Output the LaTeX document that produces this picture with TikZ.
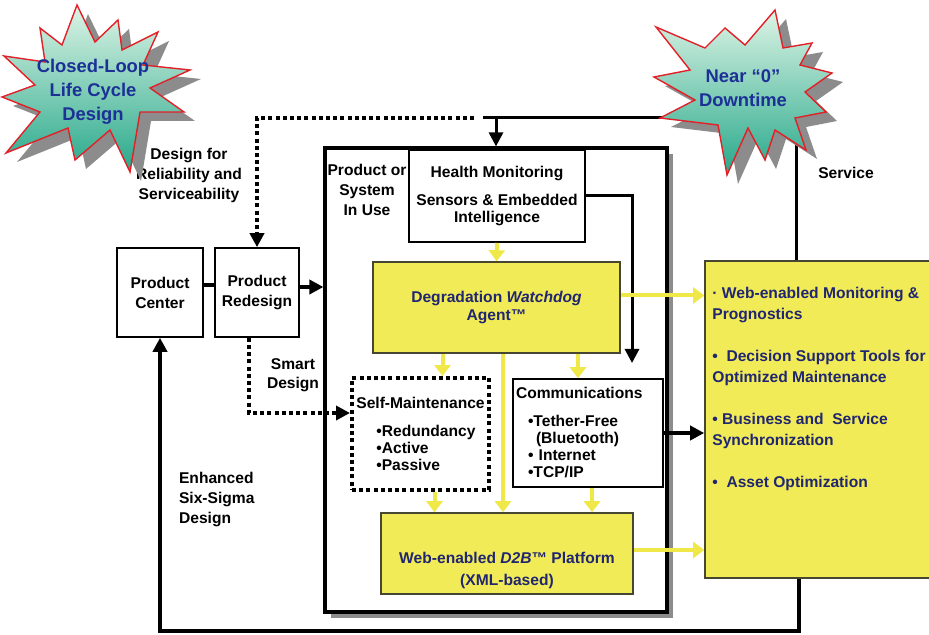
\documentclass[tikz,border=0pt]{standalone}
\usepackage{fontspec}
\setmainfont{Liberation Sans}
\usetikzlibrary{arrows.meta}
\definecolor{boxyellow}{RGB}{242,235,88}
\definecolor{arrowyellow}{RGB}{240,232,72}
\definecolor{ybord}{RGB}{70,70,50}
\definecolor{navytext}{RGB}{32,38,112}
\definecolor{burstblue}{RGB}{28,48,150}
\definecolor{burstred}{RGB}{226,32,40}
\definecolor{bursttop}{RGB}{222,244,230}
\definecolor{burstbot}{RGB}{38,168,138}
\definecolor{shadowgray}{RGB}{140,140,140}

\begin{document}
\begin{tikzpicture}[x=0.5pt, y=-0.5pt,
  font=\fontsize{7.8}{10}\selectfont\bfseries,
  wh/.style 2 args={minimum width=#1*0.5pt, minimum height=#2*0.5pt},
  box/.style={draw, line width=0.8pt, fill=white, inner sep=1pt, align=center},
  ybox/.style={draw=ybord, line width=0.8pt, fill=boxyellow, text=navytext, align=center},
  smbox/.style={draw, line width=2pt, dash pattern=on 2pt off 1.6pt, fill=white, inner xsep=2pt, align=left},
  blk/.style={line width=1.8pt, -{Triangle[length=7pt,width=7pt]}},
  ylw/.style={draw=arrowyellow, line width=2pt, -{Triangle[length=5.5pt,width=8pt]}},
  dotline/.style={line width=2pt, dash pattern=on 2pt off 1.6pt, -{Triangle[length=7pt,width=7pt]}},
  burst/.style={draw=burstred, line width=0.7pt, top color=bursttop, bottom color=burstbot},
  bursttext/.style={text=burstblue, font=\fontsize{9.2}{12}\selectfont\bfseries, align=center}]
\useasboundingbox (0,0) rectangle (929,635);
\def\burstA{(77,5) -- (95,42) -- (118,20) -- (122,50) -- (158,32) -- (143,65) -- (190,70) -- (150,88) -- (184,112) -- (140,112) -- (130,172) -- (110,130) -- (75,160) -- (68,128) -- (6,153) -- (40,112) -- (2,97) -- (35,85) -- (4,56) -- (45,62) -- (40,28) -- (62,45) -- cycle}
\def\burstB{(775,10) -- (783,48) -- (812,43) -- (800,65) -- (832,73) -- (805,92) -- (826,112) -- (795,118) -- (806,150) -- (775,130) -- (765,160) -- (748,128) -- (727,175) -- (718,125) -- (660,118) -- (695,100) -- (654,77) -- (690,70) -- (656,27) -- (705,48) -- (725,28) -- (745,45) -- cycle}

% product in use
\fill[shadowgray] (331,154) rectangle (673,618);
\node[box, line width=1.6pt, wh={342}{464}] (piu) at (496,380) {};
\node[align=center] (piulbl) at (367,190) {Product or\\System\\In Use};
\node[box, wh={176}{92}, font=\fontsize{7.8}{8.5}\selectfont\bfseries] (hm) at (497,196)
  {Health Monitoring\\[5.5pt]Sensors \& Embedded\\Intelligence};
\node[ybox, wh={247}{91}, font=\fontsize{7.8}{9}\selectfont\bfseries] (wd) at (496.5,307.5) {Degradation \textit{Watchdog}\\Agent™};
\node[smbox, wh={137}{112}, font=\fontsize{7.8}{8.5}\selectfont\bfseries] (sm) at (420.5,434)
  {Self-Maintenance\\[5.5pt]\hspace*{10pt}•Redundancy\\\hspace*{10pt}•Active\\\hspace*{10pt}•Passive};
\node[box, wh={150}{108}, text width=72pt, inner xsep=1.5pt, align=left, font=\fontsize{7.8}{8.5}\selectfont\bfseries] (com) at (588,433)
  {Communications\\[5.5pt]\hspace*{6pt}•Tether-Free\\\hspace*{10pt}(Bluetooth)\\\hspace*{6pt}• Internet\\\hspace*{6pt}•TCP/IP};
\node[ybox, wh={252}{81}] (d2b) at (507,553.5) {};
\node[text=navytext, align=center, font=\fontsize{7.8}{11}\selectfont\bfseries] (d2btxt) at (507,570) {Web-enabled \textit{D2B}™ Platform\\(XML-based)};

% left side
\node[box, wh={86}{89}] (pc) at (160,292.5) {Product\\Center};
\node[box, wh={84}{89}] (pr) at (257,292.5) {Product\\Redesign};
\node[align=center] (dfr) at (189,175) {Design for\\Reliability and\\Serviceability};
\node[align=center, font=\fontsize{7.8}{9.5}\selectfont\bfseries] (smd) at (293,375) {Smart\\Design};
\node[align=left, anchor=west] (ess) at (172,499) {Enhanced\\Six-Sigma\\Design};

% right side
\node[ybox, wh={236}{317}] (out) at (823,419.5) {};
\node[text=navytext, align=left, anchor=north west, inner sep=0pt, font=\fontsize{7.8}{10.5}\selectfont\bfseries] (outtxt) at (712,287)
  {· Web-enabled Monitoring \&\\Prognostics\\[10.5pt]•\ \ Decision Support Tools for\\Optimized Maintenance\\[10.5pt]• Business and\ \ Service\\Synchronization\\[10.5pt]•\ \ Asset Optimization};
\node (svc) at (846,173) {Service};

\coordinate (sv) at (796,118);
\coordinate (sl) at (483,118);
\coordinate (dl) at (474,118);
\coordinate (ht) at (632,363);
\coordinate (lb) at (799,631);

% connectors
\draw[line width=1.5pt] (sv) -- (sl);
\draw[blk, line width=1.5pt] (out.north -| sv) -- (sv) -| (piu.north);
\draw[dotline] (dl) -| (pr.north);
\draw[line width=1.8pt] ([yshift=3.75pt]pc.east) -- ([yshift=3.75pt]pr.west);
\draw[blk] ([yshift=2.75pt]pr.east) -- ([yshift=2.75pt]pr.east -| piu.west);
\draw[dotline] ([xshift=-4pt]pr.south) |- ([yshift=10.5pt]sm.west);
\draw[blk, line width=1.5pt] (hm.east) -| (ht);
\draw[ylw] (hm.south) -- (wd.north);
\draw[ylw] ([yshift=6pt]wd.east) -- ([yshift=6pt]wd.east -| out.west);
\draw[ylw] ([xshift=11pt]sm.north |- wd.south) -- ([xshift=11pt]sm.north);
\draw[ylw] ([xshift=-5pt]com.north |- wd.south) -- ([xshift=-5pt]com.north);
\draw[ylw] ([xshift=-2pt]d2b.north |- wd.south) -- ([xshift=-2pt]d2b.north);
\draw[ylw] ([xshift=7pt]sm.south) -- ([xshift=7pt]sm.south |- d2b.north);
\draw[ylw] ([xshift=2pt]com.south) -- ([xshift=2pt]com.south |- d2b.north);
\draw[blk] (com.east) -- (com.east -| out.west);
\draw[ylw] ([yshift=1.75pt]d2b.east) -- ([yshift=1.75pt]d2b.east -| out.west);
\draw[blk, line width=2pt] (out.south -| lb) -- (lb) -| (pc.south);

% starbursts
\fill[shadowgray, shift={(11,9)}] \burstA;
\draw[burst] \burstA;
\node[bursttext] (clt) at (93,92) {Closed-Loop\\Life Cycle\\Design};
\fill[shadowgray, shift={(11,9)}] \burstB;
\draw[burst] \burstB;
\node[bursttext] (ndt) at (743,88) {Near “0”\\Downtime};
\end{tikzpicture}
\end{document}
